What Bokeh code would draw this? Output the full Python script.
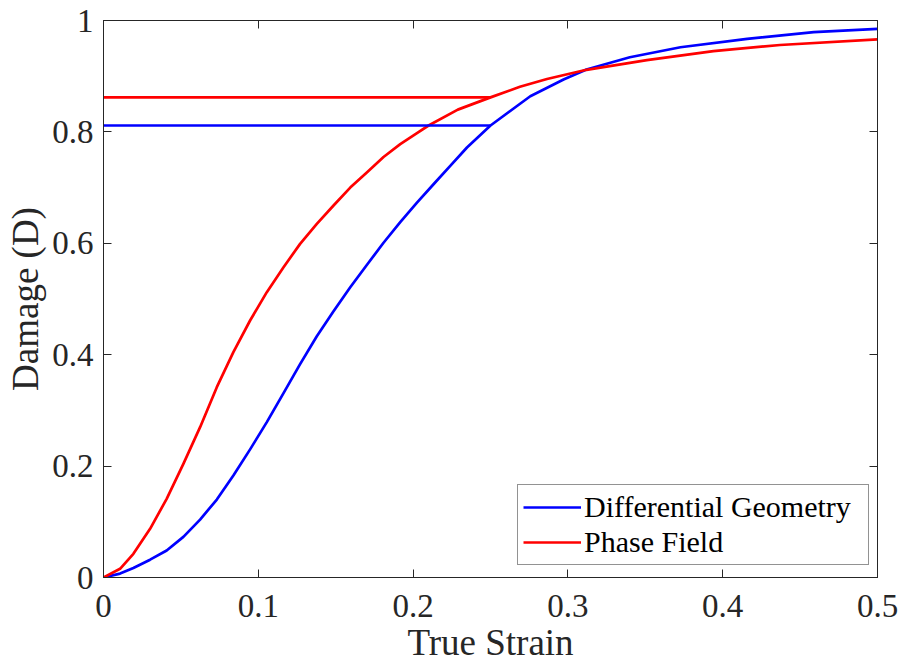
from bokeh.plotting import figure
from bokeh.models import Range1d, FixedTicker, Legend, LegendItem, LinearAxis
from bokeh.embed import file_html
from bokeh.resources import INLINE

# ---- data ----
strain_dg = [0, 0.0107, 0.0193, 0.0301, 0.0408, 0.0516, 0.0624, 0.0732, 0.0839, 0.0947,
             0.1055, 0.1163, 0.127, 0.1378, 0.1486, 0.1594, 0.1701, 0.1809, 0.1917,
             0.2025, 0.2132, 0.224, 0.2348, 0.25, 0.2757, 0.2972, 0.312, 0.34, 0.3727,
             0.4158, 0.4588, 0.5]
damage_dg = [0, 0.007, 0.017, 0.032, 0.0485, 0.073, 0.104, 0.14, 0.183, 0.23,
             0.279, 0.331, 0.383, 0.433, 0.478, 0.521, 0.561, 0.601, 0.638,
             0.673, 0.706, 0.739, 0.772, 0.8115, 0.864, 0.894, 0.912, 0.934, 0.952,
             0.967, 0.979, 0.985]

strain_pf = [0, 0.0107, 0.0193, 0.0301, 0.0408, 0.0516, 0.0624, 0.0732, 0.0839, 0.0947,
             0.1055, 0.1163, 0.127, 0.1378, 0.1486, 0.1594, 0.1701, 0.1809, 0.1917,
             0.2025, 0.21, 0.2289, 0.25, 0.269, 0.2865, 0.312, 0.351, 0.394, 0.437, 0.5]
damage_pf = [0, 0.0156, 0.0425, 0.0874, 0.1412, 0.2041, 0.2699, 0.3417, 0.4045, 0.4614,
             0.5123, 0.5571, 0.599, 0.6349, 0.6679, 0.700, 0.727, 0.755, 0.778,
             0.798, 0.8115, 0.840, 0.862, 0.881, 0.895, 0.9115, 0.929, 0.945, 0.956, 0.966]

plateau_strain = [0, 0.25]
plateau_dg = [0.8115, 0.8115]
plateau_pf = [0.862, 0.862]

x_min, x_max = 0, 0.5
y_min, y_max = 0, 1
x_ticks = [0, 0.1, 0.2, 0.3, 0.4, 0.5]
x_tick_labels = ["0", "0.1", "0.2", "0.3", "0.4", "0.5"]
y_ticks = [0, 0.2, 0.4, 0.6, 0.8, 1.0]
y_tick_labels = ["0", "0.2", "0.4", "0.6", "0.8", "1"]

series_names = ["Differential Geometry", "Phase Field"]
x_label = "True Strain"
y_label = "Damage (D)"

# ---- styling ----
FONT = "Liberation Serif"
AX = "#262626"
BLUE = "#0000FF"
RED = "#FF0000"
LW = 2.7

p = figure(width=902, height=665, output_backend="svg", toolbar_location=None,
           x_range=Range1d(x_min, x_max), y_range=Range1d(y_min, y_max),
           min_border_left=103, min_border_right=25, min_border_top=20,
           min_border_bottom=88)
p.grid.visible = False
p.outline_line_color = AX
p.outline_line_width = 1
p.background_fill_color = "white"
p.border_fill_color = "white"

r_dg = p.line(strain_dg, damage_dg, line_color=BLUE, line_width=LW, line_join="round")
r_pf = p.line(strain_pf, damage_pf, line_color=RED, line_width=LW, line_join="round")
p.line(plateau_strain, plateau_pf, line_color=RED, line_width=LW)
p.line(plateau_strain, plateau_dg, line_color=BLUE, line_width=LW)

bx = p.xaxis[0]
ly = p.yaxis[0]
# mirror axes (box on): ticks only, no labels
top_ax = LinearAxis()
right_ax = LinearAxis()
p.add_layout(top_ax, "above")
p.add_layout(right_ax, "right")

for ax, ticks, labels in [(bx, x_ticks, x_tick_labels), (ly, y_ticks, y_tick_labels),
                          (top_ax, x_ticks, [""] * len(x_ticks)),
                          (right_ax, y_ticks, [""] * len(y_ticks))]:
    ax.ticker = FixedTicker(ticks=ticks)
    ax.major_label_overrides = {t: l for t, l in zip(ticks, labels)}
    ax.axis_line_color = AX
    ax.axis_line_width = 1
    ax.major_tick_line_color = AX
    ax.major_tick_line_width = 1
    ax.major_tick_in = 8
    ax.major_tick_out = 0
    ax.minor_tick_in = 0
    ax.minor_tick_out = 0
    ax.minor_tick_line_color = None
    ax.major_label_text_font = FONT
    ax.major_label_text_font_size = "33px"
    ax.major_label_text_color = AX
    ax.axis_label_text_font = FONT
    ax.axis_label_text_font_size = "37px"
    ax.axis_label_text_font_style = "normal"
    ax.axis_label_text_color = AX

for ax in (top_ax, right_ax):
    ax.major_label_standoff = 0
    ax.major_label_text_font_size = "1px"

bx.axis_label = x_label
ly.axis_label = y_label
bx.major_label_standoff = 17
bx.axis_label_standoff = 2
ly.major_label_standoff = 10
ly.axis_label_standoff = 3

legend = Legend(items=[LegendItem(label=series_names[0], renderers=[r_dg]),
                       LegendItem(label=series_names[1], renderers=[r_pf])],
                location=(414, 12), margin=0, padding=5, spacing=1,
                glyph_width=58, glyph_height=34, label_height=34,
                label_standoff=3, label_width=279,
                label_text_font=FONT, label_text_font_size="30px",
                label_text_color="black",
                border_line_color=AX, border_line_width=1,
                background_fill_color="white", background_fill_alpha=1)
p.add_layout(legend)

open("out.html", "w").write(file_html(p, INLINE))
